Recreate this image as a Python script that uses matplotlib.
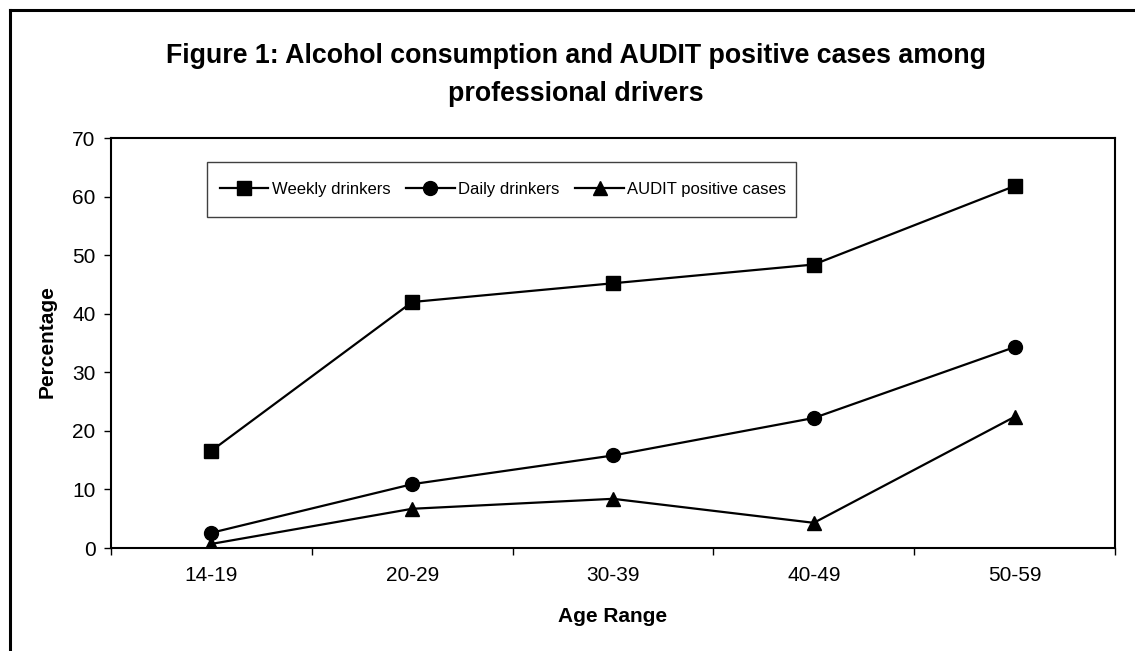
import matplotlib
matplotlib.use("Agg")
import matplotlib.pyplot as plt
from matplotlib.lines import Line2D
from matplotlib.patches import Rectangle

plt.rcParams['font.family'] = ['Liberation Sans', 'DejaVu Sans']

# Age groups and percentages per group
age_ranges = ['14-19', '20-29', '30-39', '40-49', '50-59']
weekly = [16.6, 42.0, 45.2, 48.4, 61.8]
daily = [2.6, 10.9, 15.8, 22.2, 34.3]
audit = [0.7, 6.7, 8.4, 4.3, 22.4]

fig = plt.figure(figsize=(11.35, 6.51), dpi=100)
ax = fig.add_axes([0.0978, 0.1582, 0.8846, 0.6298])

x = range(len(age_ranges))
ax.plot(x, weekly, color='black', lw=1.6, marker='s', ms=10, label='Weekly drinkers')
ax.plot(x, daily, color='black', lw=1.6, marker='o', ms=10, label='Daily drinkers')
ax.plot(x, audit, color='black', lw=1.6, marker='^', ms=10, label='AUDIT positive cases')

ax.set_xlim(-0.5, len(age_ranges) - 0.5)
ax.set_ylim(0, 70)
ax.set_yticks(range(0, 71, 10))

# tick marks between categories, labels at the centres
ax.set_xticks([i - 0.5 for i in range(len(age_ranges) + 1)])
ax.set_xticklabels([])
ax.set_xticks(list(x), minor=True)
ax.set_xticklabels(age_ranges, minor=True)
ax.tick_params(axis='x', which='major', direction='out', length=5, width=1, colors='black')
ax.tick_params(axis='x', which='minor', length=0, pad=13, labelsize=15)
ax.tick_params(axis='y', direction='out', length=5, width=1, pad=6, labelsize=15)

for sp in ax.spines.values():
    sp.set_linewidth(1.5)
    sp.set_color('black')

# legend box drawn separately so its size can be set freely
ax.add_patch(Rectangle((0.0956, 0.807), 0.587, 0.134, transform=ax.transAxes,
                       facecolor='white', edgecolor='#404040', lw=1.0, zorder=4))
leg = ax.legend(loc='center', bbox_to_anchor=(0.3905, 0.8744), ncol=3, fontsize=12.0,
                frameon=False, handlelength=2.9, handletextpad=0.22,
                columnspacing=0.95, borderpad=0, borderaxespad=0)
leg.set_zorder(5)

fig.text(0.5075, 1 - 75 / 651, 'Figure 1: Alcohol consumption and AUDIT positive cases among\nprofessional drivers',
         ha='center', va='center', ma='center', fontsize=19.3, fontweight='bold', linespacing=1.62)
fig.text(47 / 1135, 1 - 342 / 651, 'Percentage', rotation=90, ha='center', va='center',
         fontsize=15, fontweight='bold')
fig.text(613 / 1135, 1 - 617 / 651, 'Age Range', ha='center', va='center',
         fontsize=15, fontweight='bold')

# outer chart border (left and top edges)
fig.add_artist(Line2D([10 / 1135, 10 / 1135], [0, 1 - 10 / 651], color='black', lw=2.2,
                      transform=fig.transFigure))
fig.add_artist(Line2D([10 / 1135, 1], [1 - 10 / 651, 1 - 10 / 651], color='black', lw=2.2,
                      transform=fig.transFigure))

fig.savefig('out.png', dpi=100)
